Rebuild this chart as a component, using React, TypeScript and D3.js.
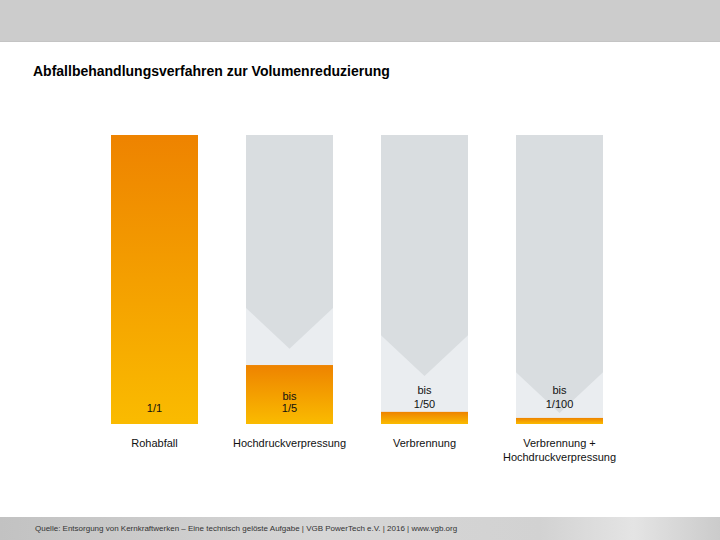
import React from "react";
import * as d3 from "d3";

const categories = ["Rohabfall", "Hochdruckverpressung", "Verbrennung", "Verbrennung +\nHochdruckverpressung"];
const ratioLabels = ["1/1", "bis\n1/5", "bis\n1/50", "bis\n1/100"];
// remaining volume shown (fraction of bar height) as drawn in the picture
const remainingShown = [1, 0.204, 0.042, 0.021];
// height of the reduction arrow's tip above the bar base (fraction of bar height)
const arrowTipShown = [1, 0.26, 0.166, 0.038];

const W = 720;
const H = 540;

export default function App() {
  const y = d3.scaleLinear().domain([0, 1]).range([424, 135]);
  const x = d3.scalePoint<string>().domain(categories).range([154.5, 559.5]);
  const bw = 87;
  const font = "'Liberation Sans', Arial, sans-serif";

  return (
    <svg width={W} height={H} style={{ position: "absolute", left: 0, top: 0 }} fontFamily={font}>
      <defs>
        <linearGradient id="org" x1="0" y1="0" x2="0" y2="1">
          <stop offset="0%" stopColor="#ee8300" />
          <stop offset="100%" stopColor="#fabb00" />
        </linearGradient>
        <linearGradient id="foot" x1="0" y1="0" x2="1" y2="0">
          <stop offset="0%" stopColor="#c2c2c2" />
          <stop offset="45%" stopColor="#d6d6d6" />
          <stop offset="75%" stopColor="#d2d2d2" />
          <stop offset="88%" stopColor="#e4e4e4" />
          <stop offset="100%" stopColor="#cbcbcb" />
        </linearGradient>
      </defs>
      <rect x={0} y={0} width={W} height={H} fill="#ffffff" />
      <rect x={0} y={0} width={W} height={42} fill="#cccccc" />
      <rect x={0} y={41} width={W} height={1} fill="#c4c4c4" />
      <text x={33} y={76} fontSize={14} fontWeight="bold" fill="#000">
        Abfallbehandlungsverfahren zur Volumenreduzierung
      </text>

      {categories.map((c, i) => {
        const cx = x(c)!;
        const x0 = cx - bw / 2;
        const x1 = cx + bw / 2;
        const top = y(1);
        const base = y(0);
        const isFull = remainingShown[i] >= 1;
        const tipY = y(arrowTipShown[i]);
        const shoulderY = tipY - bw * 0.47;
        const lines = ratioLabels[i].split("\n");
        const lastBase = i < 2 ? 412 : 408;
        const gap = i < 2 ? 12 : 14;
        return (
          <g key={c}>
            {!isFull && (
              <>
                <rect x={x0} y={top} width={bw} height={base - top} fill="#eaedf0" />
                <path
                  d={`M${x0},${top}L${x1},${top}L${x1},${shoulderY}L${cx},${tipY}L${x0},${shoulderY}Z`}
                  fill="#d9dde0"
                />
              </>
            )}
            <rect x={x0} y={y(remainingShown[i])} width={bw} height={base - y(remainingShown[i])} fill="url(#org)" />
            {lines.map((l, k) => (
              <text
                key={k}
                x={cx}
                y={lastBase - (lines.length - 1 - k) * gap}
                textAnchor="middle"
                fontSize={11}
                fill="#111"
              >
                {l}
              </text>
            ))}
            {c.split("\n").map((l, k) => (
              <text key={"c" + k} x={cx} y={447 + k * 14} textAnchor="middle" fontSize={11} fill="#111">
                {l}
              </text>
            ))}
          </g>
        );
      })}

      <rect x={0} y={517} width={W} height={23} fill="url(#foot)" />
      <text x={35} y={531} fontSize={8} fill="#333">
        Quelle: Entsorgung von Kernkraftwerken – Eine technisch gelöste Aufgabe | VGB PowerTech e.V. | 2016 | www.vgb.org
      </text>
    </svg>
  );
}
